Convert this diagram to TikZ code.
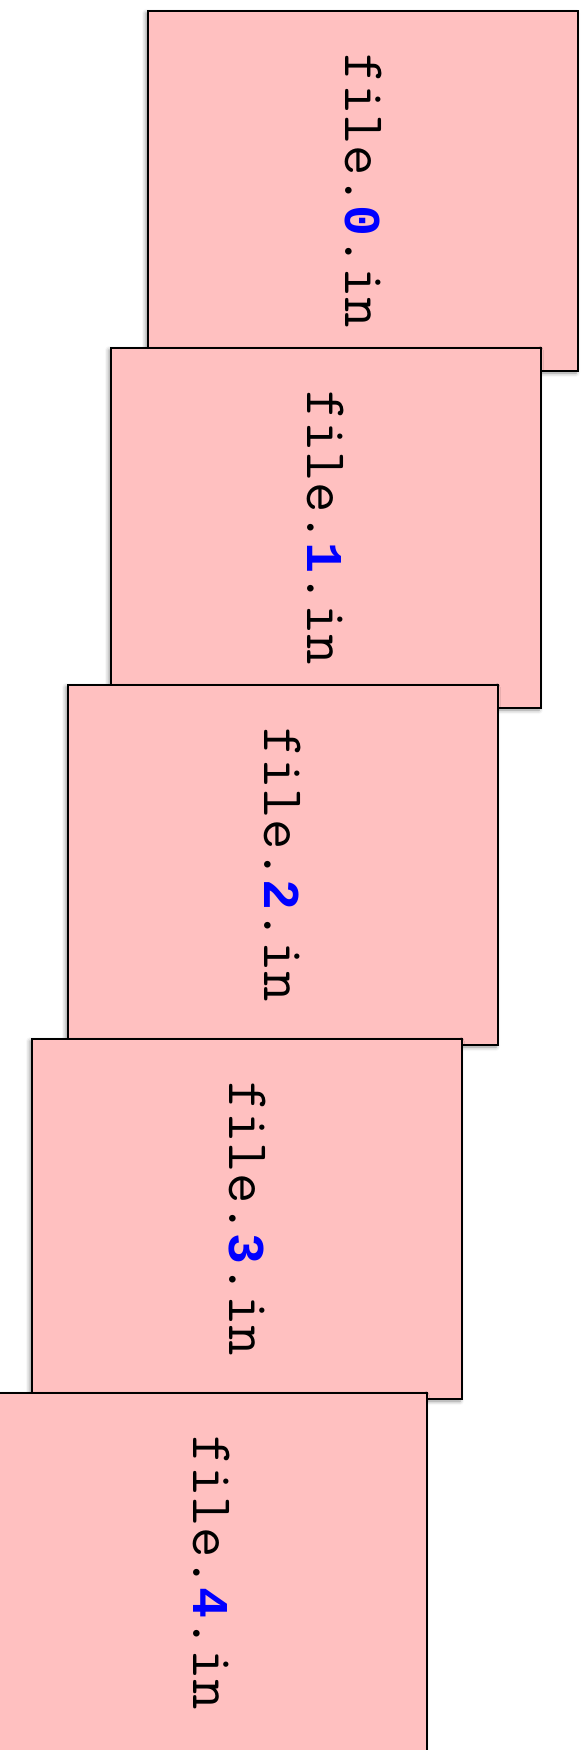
\documentclass[tikz,border=0pt]{standalone}
\usepackage{fontspec}
\newfontfamily\digitfont{Liberation Mono}
\usetikzlibrary{shadows.blur}
\definecolor{cardpink}{RGB}{255,192,192}
\definecolor{numblue}{RGB}{0,0,255}
\newcommand{\fileno}[1]{file.{\digitfont\bfseries\fontsize{51.6}{60}\selectfont\color{numblue}#1}.in}
\tikzset{
  filecard/.style={
    draw=black, line width=1.3pt, fill=cardpink,
    rectangle, rotate=-90,
    minimum width=360pt, minimum height=430pt, inner sep=0pt,
    font=\ttfamily\fontsize{59}{60}\selectfont,
    blur shadow={shadow xshift=-2pt, shadow yshift=-2pt, shadow blur radius=4pt, shadow opacity=45}
  }
}
\begin{document}
\begin{tikzpicture}[x=1pt,y=-1pt]
  \useasboundingbox (0,0) rectangle (587,1750);
  \node[filecard] (f0) at (363,191)  {\fileno{0}};
  \node[filecard] (f1) at (326,528)  {\fileno{1}};
  \node[filecard] (f2) at (283,865)  {\fileno{2}};
  \node[filecard] (f3) at (247,1219) {\fileno{3}};
  \node[filecard] (f4) at (212,1573) {\fileno{4}};
\end{tikzpicture}
\end{document}
